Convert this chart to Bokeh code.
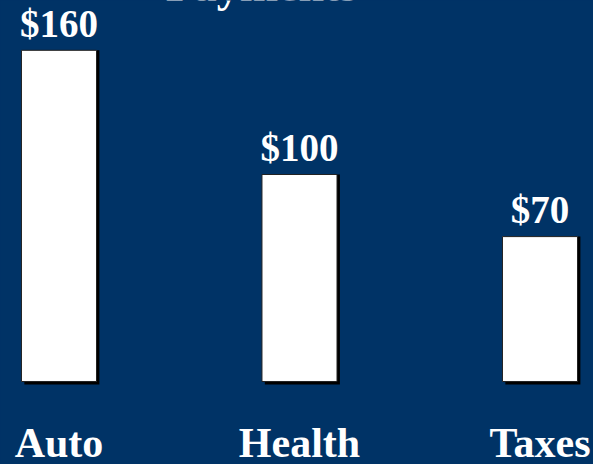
from bokeh.plotting import figure
from bokeh.models import ColumnDataSource, Range1d, Label, GlobalInlineStyleSheet
from bokeh.transform import dodge
from bokeh.core.properties import value
from bokeh.embed import file_html
from bokeh.resources import INLINE

categories = ["Auto", "Health", "Taxes"]
payments = [160, 100, 70]
value_labels = ["$160", "$100", "$70"]
title_text = "Payments"

BG = "#003366"
FONT = "Liberation Serif"

src = ColumnDataSource(dict(
    x=list(range(len(categories))),
    cat=categories,
    val=payments,
    lab=value_labels,
))

W, H = 593, 464
p = figure(width=W, height=H, output_backend="svg", toolbar_location=None,
           x_range=Range1d(-0.2432, 2.2225), y_range=Range1d(-40.1, 184.06),
           min_border=0, min_border_left=0, min_border_right=0,
           min_border_top=0, min_border_bottom=0)
p.background_fill_color = BG
p.border_fill_color = BG
p.outline_line_color = None
p.axis.visible = False
p.grid.visible = False
p.stylesheets = [GlobalInlineStyleSheet(css="html, body { background: #003366; }")]

bw = 0.312
# drop shadow
p.vbar(x=dodge("x", 0.012), top="val", bottom=-1.4, width=bw, source=src,
       fill_color="black", line_color=None)
# bars
p.vbar(x="x", top="val", bottom=0, width=bw, source=src,
       fill_color="white", line_color="#222222", line_width=1)

# value labels
p.text(x="x", y="val", text="lab", source=src, text_align="center",
       text_baseline="alphabetic", y_offset=-27, text_color="white",
       text_font=value(FONT), text_font_style="bold", text_font_size="39px")

# category labels
p.text(x="x", y=0, text="cat", source=src, text_align="center",
       text_baseline="alphabetic", y_offset=62, text_color="white",
       text_font=value(FONT), text_font_style="bold", text_font_size="42px")

# title (cropped at top)
p.add_layout(Label(x=1, y=184.06, x_offset=-38, y_offset=15, text=title_text,
                   text_align="center", text_baseline="alphabetic",
                   text_color="white", text_font=FONT, text_font_style="bold",
                   text_font_size="46px"))

open("out.html", "w").write(file_html(p, INLINE))
